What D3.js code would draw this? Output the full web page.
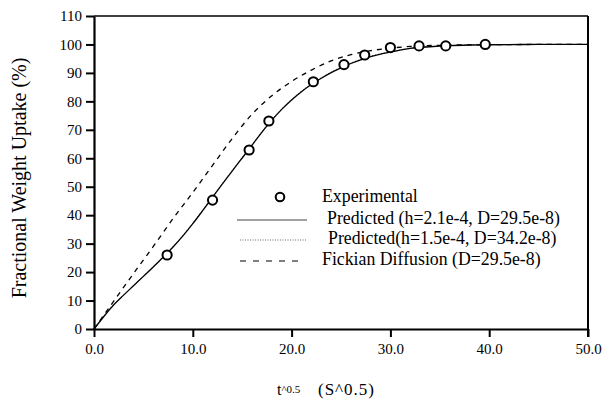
<!DOCTYPE html>
<html><head><meta charset="utf-8">
<script src="https://cdn.jsdelivr.net/npm/d3@7"></script>
<style>
html,body{margin:0;padding:0;background:#fff;}
svg text{font-family:"Liberation Serif","DejaVu Serif",serif;}
</style></head>
<body>
<svg id="chart" width="603" height="400"></svg>
<script>
// ---- data ----
const expX = [7.4, 12.0, 15.7, 17.7, 22.2, 25.3, 27.4, 30.0, 32.9, 35.6, 39.6];
const expY = [26.0, 45.3, 62.9, 73.1, 86.9, 92.9, 96.3, 98.9, 99.5, 99.5, 100.0];

const predAX = [0, 1, 2, 3, 4, 5, 6, 7, 8, 9, 10, 11, 12, 13, 14, 15, 16, 17, 18, 19, 20, 21, 22, 23, 24, 25, 26, 27, 28, 29, 30, 32, 34, 36, 38, 40, 45, 50];
const predAY = [0, 4.4, 8.5, 11.9, 15.2, 18.5, 21.8, 25.2, 28.8, 32.7, 37.0, 41.6, 46.3, 51.0, 55.6, 60.1, 64.6, 69.2, 73.4, 77.2, 80.5, 83.4, 85.9, 88.1, 90.1, 91.8, 93.3, 94.6, 95.7, 96.6, 97.3, 98.6, 99.2, 99.6, 99.8, 99.9, 100, 100];

const predBX = [0, 1, 2, 3, 4, 5, 6, 7, 8, 9, 10, 11, 12, 13, 14, 15, 16, 17, 18, 19, 20, 21, 22, 23, 24, 25, 26, 27, 28, 29, 30, 32, 34, 36, 38, 40, 45, 50];
const predBY = [0, 4.5, 8.6, 12.0, 15.3, 18.6, 22.0, 25.4, 29.0, 32.9, 37.2, 41.8, 46.5, 51.2, 55.8, 60.3, 64.8, 69.4, 73.6, 77.4, 80.7, 83.6, 86.1, 88.3, 90.3, 92.0, 93.5, 94.8, 95.9, 96.7, 97.4, 98.7, 99.3, 99.6, 99.8, 99.9, 100, 100];

const fickX = [0, 2, 4, 6, 8, 10, 12, 14, 16, 18, 20, 22, 24, 26, 28, 30, 32, 35, 40, 45, 50];
const fickY = [0, 9.8, 19.5, 29.0, 38.8, 48.0, 57.5, 67.0, 75.5, 82.0, 87.0, 91.0, 94.2, 96.4, 97.8, 98.7, 99.3, 99.7, 99.9, 100, 100];

const xTicks = [0, 10, 20, 30, 40, 50];
const yTicks = [0, 10, 20, 30, 40, 50, 60, 70, 80, 90, 100, 110];

const legendLabels = ["Experimental", "Predicted (h=2.1e-4, D=29.5e-8)", "Predicted(h=1.5e-4, D=34.2e-8)", "Fickian Diffusion (D=29.5e-8)"];

// ---- layout ----
const FONT = "Liberation Serif, DejaVu Serif, serif";
const svg = d3.select("#chart");
const x = d3.scaleLinear().domain([0, 50]).range([94, 588]);
const y = d3.scaleLinear().domain([0, 110]).range([329, 16]);

// frame top & right
svg.append("line").attr("x1", x(0)).attr("x2", x(50)).attr("y1", y(110)).attr("y2", y(110))
  .attr("stroke", "#000").attr("stroke-width", 1.6);
svg.append("line").attr("x1", x(50)).attr("x2", x(50)).attr("y1", y(110)).attr("y2", y(0) + 8)
  .attr("stroke", "#000").attr("stroke-width", 2);

// axes
const yAxis = svg.append("g").attr("transform", `translate(${x(0)},0)`)
  .call(d3.axisLeft(y).tickValues(yTicks).tickSize(8).tickSizeOuter(0).tickPadding(4).tickFormat(d3.format("d")));
const xAxis = svg.append("g").attr("transform", `translate(0,${y(0)})`)
  .call(d3.axisBottom(x).tickValues(xTicks).tickSize(8).tickSizeOuter(0).tickPadding(6).tickFormat(d3.format(".1f")));
[yAxis, xAxis].forEach(g => {
  g.attr("font-family", FONT).attr("font-size", 15);
  g.select(".domain").attr("stroke", "#000").attr("stroke-width", 2.2);
  g.selectAll(".tick line").attr("stroke", "#000").attr("stroke-width", 2);
  g.selectAll(".tick text").attr("fill", "#000").attr("font-family", FONT).attr("font-size", 15);
});

// curves
const line = d3.line().x(d => x(d[0])).y(d => y(d[1])).curve(d3.curveMonotoneX);
svg.append("path").datum(fickX.map((v, i) => [v, fickY[i]]))
  .attr("d", line).attr("fill", "none").attr("stroke", "#000").attr("stroke-width", 1.3)
  .attr("stroke-dasharray", "5,5");
svg.append("path").datum(predBX.map((v, i) => [v, predBY[i]]))
  .attr("d", line).attr("fill", "none").attr("stroke", "#555").attr("stroke-width", 1)
  .attr("stroke-dasharray", "1,2");
svg.append("path").datum(predAX.map((v, i) => [v, predAY[i]]))
  .attr("d", line).attr("fill", "none").attr("stroke", "#000").attr("stroke-width", 1.3);

// experimental points
svg.append("g").selectAll("circle").data(expX.map((v, i) => [v, expY[i]])).join("circle")
  .attr("cx", d => x(d[0])).attr("cy", d => y(d[1])).attr("r", 4.6)
  .attr("fill", "#fff").attr("stroke", "#000").attr("stroke-width", 2);

// legend
const lg = svg.append("g").attr("font-family", FONT).attr("font-size", 17.8).attr("fill", "#000");
lg.append("circle").attr("cx", 280).attr("cy", 197).attr("r", 4.3)
  .attr("fill", "#fff").attr("stroke", "#000").attr("stroke-width", 2);
lg.append("line").attr("x1", 237).attr("x2", 307).attr("y1", 220).attr("y2", 220)
  .attr("stroke", "#444").attr("stroke-width", 1);
lg.append("line").attr("x1", 240).attr("x2", 307).attr("y1", 240).attr("y2", 240)
  .attr("stroke", "#666").attr("stroke-width", 1).attr("stroke-dasharray", "1,1.5");
lg.append("line").attr("x1", 240).attr("x2", 304).attr("y1", 261).attr("y2", 261)
  .attr("stroke", "#000").attr("stroke-width", 1.2).attr("stroke-dasharray", "6,7");
const lgX = [322, 327, 328, 322];
const lgY = [202, 224, 244, 265];
legendLabels.forEach((t, i) => {
  lg.append("text").attr("x", lgX[i]).attr("y", lgY[i]).attr("font-family", FONT).text(t);
});

// y title
svg.append("text").attr("transform", "translate(26,178) rotate(-90)")
  .attr("text-anchor", "middle").attr("font-family", FONT).attr("font-size", 20)
  .text("Fractional Weight Uptake (%)");

// x title
const xt = svg.append("text").attr("x", 277).attr("y", 395).attr("font-family", FONT).attr("font-size", 16);
xt.append("tspan").text("t");
xt.append("tspan").attr("font-size", 11).attr("dy", -2).text("^0.5");
svg.append("text").attr("x", 318).attr("y", 395).attr("font-family", FONT).attr("font-size", 17)
  .attr("letter-spacing", 1).text("(S^0.5)");
</script>
</body></html>
